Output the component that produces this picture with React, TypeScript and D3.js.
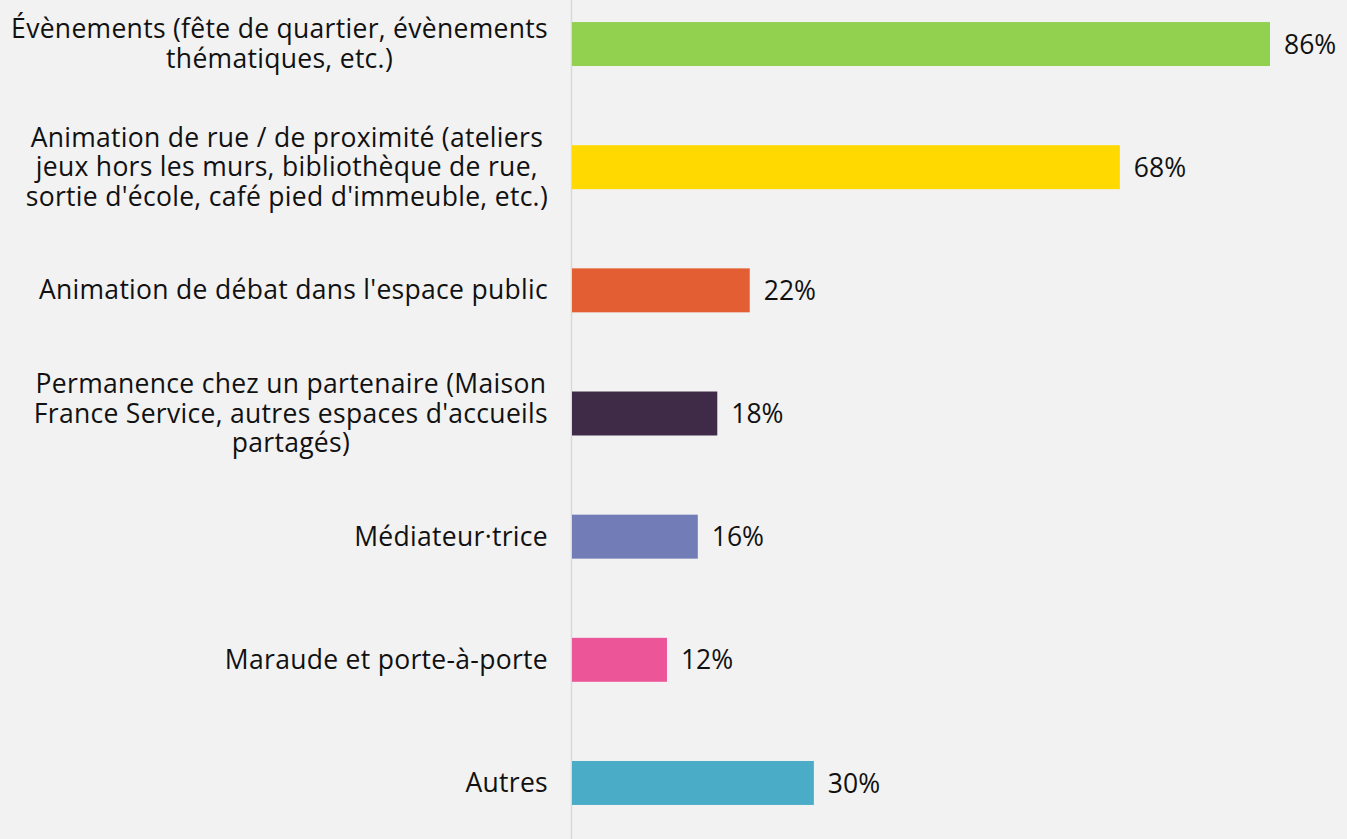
import React, { useRef, useEffect } from "react";
import * as d3 from "d3";

const categories = [
  "Évènements (fête de quartier, évènements|thématiques, etc.)",
  "Animation de rue / de proximité (ateliers|jeux hors les murs, bibliothèque de rue,|sortie d'école, café pied d'immeuble, etc.)",
  "Animation de débat dans l'espace public",
  "Permanence chez un partenaire (Maison|France Service, autres espaces d'accueils|partagés)",
  "Médiateur·trice",
  "Maraude et porte-à-porte",
  "Autres",
];
// shares (labels show the rounded value)
const values = [86, 67.5, 21.9, 17.9, 15.5, 11.7, 29.8];
const colors = ["#92d050", "#ffd900", "#e35f33", "#3f2b48", "#727cb6", "#ec5598", "#4aacc6"];

const W = 1347;
const H = 839;

export default function App() {
  const svgRef = useRef<SVGSVGElement>(null);

  useEffect(() => {
    document.body.style.margin = "0";
    const svg = d3.select(svgRef.current);
    svg.selectAll("*").remove();

    const x = d3.scaleLinear().domain([0, 86]).range([572, 1270]);
    const y = d3
      .scaleBand()
      .domain(categories)
      .range([0, 827])
      .paddingInner(0.643)
      .paddingOuter(0.179);

    svg.append("rect").attr("width", W).attr("height", H).attr("fill", "#f2f2f2");

    svg
      .append("line")
      .attr("x1", 571.5)
      .attr("x2", 571.5)
      .attr("y1", 0)
      .attr("y2", H)
      .attr("stroke", "#d9d9d9")
      .attr("stroke-width", 1.5);

    svg
      .selectAll(".bar")
      .data(categories)
      .join("rect")
      .attr("class", "bar")
      .attr("x", x(0))
      .attr("y", (d) => y(d)!)
      .attr("width", (d, i) => x(values[i]) - x(0))
      .attr("height", y.bandwidth())
      .attr("fill", (d, i) => colors[i]);

    const font = "'Open Sans', sans-serif";
    const lineH = 29.5;

    // category labels: block right-aligned, lines centred among themselves
    categories.forEach((c) => {
      const lines = c.split("|");
      const cy = y(c)! + y.bandwidth() / 2;
      const g = svg.append("g");
      const texts = lines.map((l, j) =>
        g
          .append("text")
          .attr("y", cy + (j - (lines.length - 1) / 2) * lineH - 0.5)
          .attr("dy", "0.36em")
          .attr("text-anchor", "middle")
          .attr("font-family", font)
          .attr("font-size", 26.5)
          .attr("letter-spacing", 0.3)
          .attr("fill", "#111")
          .text(l)
      );
      const maxW = d3.max(texts, (t) => (t.node() as SVGTextElement).getComputedTextLength()) || 0;
      texts.forEach((t) => t.attr("x", 548 - maxW / 2));
    });

    svg
      .selectAll(".val")
      .data(categories)
      .join("text")
      .attr("class", "val")
      .attr("x", (d, i) => x(values[i]) + 14)
      .attr("y", (d) => y(d)! + y.bandwidth() / 2)
      .attr("dy", "0.36em")
      .attr("font-family", font)
      .attr("font-size", 26.5)
      .attr("fill", "#111")
      .text((d, i) => Math.round(values[i]) + "%");
  }, []);

  return (
    <div style={{ position: "absolute", left: 0, top: 0 }}>
      <svg ref={svgRef} width={W} height={H}></svg>
    </div>
  );
}
